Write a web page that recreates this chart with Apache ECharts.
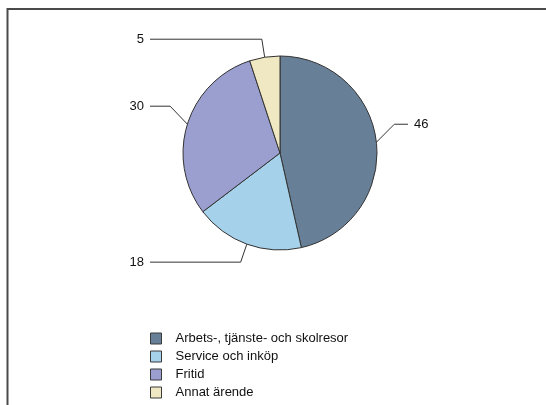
<!DOCTYPE html>
<html>
<head>
<meta charset="utf-8">
<script src="https://cdn.jsdelivr.net/npm/echarts@6/dist/echarts.min.js"></script>
<style>
  html, body { margin: 0; padding: 0; background: #fff; }
  #chart { width: 546px; height: 405px; }
</style>
</head>
<body>
<div id="chart"></div>
<script>
const categories = ['Arbets-, tjänste- och skolresor', 'Service och inköp', 'Fritid', 'Annat ärende'];
const values = [46, 18, 30, 5];
const colors = ['#687f98', '#a5d2ea', '#9a9fcf', '#efe8c3'];

const chart = echarts.init(document.getElementById('chart'), null, { renderer: 'canvas' });
const FONT = '"Liberation Sans", Arial, Helvetica, sans-serif';

const CX = 280, CY = 153, R = 97;
const LEFT_END = 150, RIGHT_END = 408, SEG = 18, GAP = 6, L1 = 20;

chart.setOption({
  animation: false,
  backgroundColor: '#ffffff',
  textStyle: { fontFamily: FONT },
  graphic: [{
    type: 'rect',
    shape: { x: 7.5, y: 9, width: 600, height: 500 },
    style: { fill: 'none', stroke: '#4a4a4a', lineWidth: 2 },
    silent: true
  }],
  legend: {
    orient: 'vertical',
    left: 150,
    top: 331,
    padding: 0,
    itemWidth: 11,
    itemHeight: 11,
    itemGap: 3,
    icon: 'rect',
    itemStyle: { borderColor: '#3a3a3a', borderWidth: 1 },
    textStyle: { fontFamily: FONT, fontSize: 13, color: '#111', lineHeight: 15, padding: [0, 0, 0, 9] },
    data: categories
  },
  series: [{
    type: 'pie',
    center: [CX, CY],
    radius: R,
    startAngle: 90,
    clockwise: true,
    avoidLabelOverlap: false,
    itemStyle: { borderColor: '#333', borderWidth: 1 },
    label: {
      show: true,
      position: 'outside',
      formatter: '{c}',
      fontFamily: FONT,
      fontSize: 13,
      color: '#111'
    },
    labelLine: {
      show: true,
      length: L1,
      length2: 20,
      lineStyle: { color: '#333', width: 1 }
    },
    labelLayout: function (params) {
      const p = params.labelLinePoints;
      if (!p) return {};
      const p0 = p[0];
      const dx = (p[1][0] - p0[0]) / L1;
      const dy = p[1][1] - p0[1];
      const p1 = [p0[0] + SEG * dx, p0[1] + SEG * (dy < 0 ? -1 : 1)];
      const left = p0[0] < CX;
      const endX = left ? LEFT_END : RIGHT_END;
      const p2 = [endX, p1[1]];
      return {
        x: left ? endX - GAP : endX + GAP,
        y: p1[1],
        align: left ? 'right' : 'left',
        verticalAlign: 'middle',
        labelLinePoints: [p0, p1, p2]
      };
    },
    data: categories.map((c, i) => ({ name: c, value: values[i], itemStyle: { color: colors[i] } }))
  }]
});
</script>
</body>
</html>
